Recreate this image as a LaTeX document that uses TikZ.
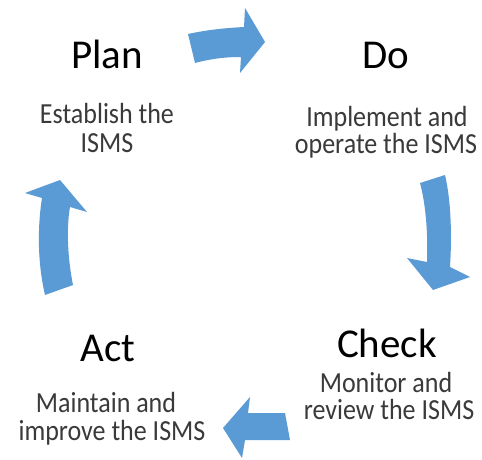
\documentclass[tikz,border=0pt]{standalone}
\usepackage{fontspec}
\usepackage{graphicx}
\setmainfont{Carlito}
\definecolor{arrowblue}{HTML}{5B9BD5}
\definecolor{bodytext}{HTML}{3A3A3A}
\newcommand{\tallbody}[1]{\scalebox{1}[1.12]{#1}}
\begin{document}
\begin{tikzpicture}[x=1pt,y=-1pt,
  heading/.style={anchor=base,inner sep=0pt,font=\fontsize{41}{44}\selectfont,text=black},
  bodyline/.style={anchor=base,inner sep=0pt,text height=19pt,text depth=5pt,font=\fontsize{26}{28}\selectfont,text=bodytext},
  cyclearrow/.style={fill=arrowblue,draw=none}]
\useasboundingbox (0,0) rectangle (482,460);
\fill[white] (0,0) rectangle (482,460);

% headings
\node[heading] (plan) at (107,69) {Plan};
\node[heading] (do) at (386,69) {Do};
\node[heading] (check) at (387,357) {Check};
\node[heading] (act) at (108,361) {Act};

% descriptions
\node[bodyline] (plan1) at (107,123) {\tallbody{Establish the}};
\node[bodyline] (plan2) at (107,152) {\tallbody{ISMS}};
\node[bodyline] (do1) at (387,126) {\tallbody{Implement and}};
\node[bodyline] (do2) at (386,153) {\tallbody{operate the ISMS}};
\node[bodyline] (check1) at (386,392) {\tallbody{Monitor and}};
\node[bodyline] (check2) at (389,419) {\tallbody{review the ISMS}};
\node[bodyline] (act1) at (106,412) {\tallbody{Maintain and}};
\node[bodyline] (act2) at (112,440) {\tallbody{improve the ISMS}};

% arrow Plan -> Do
\fill[cyclearrow] (188,34) .. controls (206,30) and (225,28) .. (244,27)
  -- (245,8) -- (265,42) -- (240,73) -- (241,57)
  .. controls (224,57) and (210,59) .. (195,63) -- cycle;
% arrow Do -> Check
\fill[cyclearrow] (420,183) .. controls (426,205) and (428,235) .. (427,262)
  -- (407,258) -- (433,290) -- (470,277) -- (450,267)
  .. controls (452,235) and (451,200) .. (445,175) -- cycle;
% arrow Check -> Act
\fill[cyclearrow] (285,413) .. controls (272,413) and (260,413) .. (248,413)
  -- (250,397) -- (223,428) -- (242,458) -- (245,440)
  .. controls (260,440) and (275,440) .. (290,440) -- cycle;
% arrow Act -> Plan
\fill[cyclearrow] (45,295) .. controls (38,265) and (37,230) .. (42,198)
  -- (25,193) -- (60,180) -- (87,212) -- (70,207)
  .. controls (66,230) and (68,260) .. (73,285) -- cycle;
\end{tikzpicture}
\end{document}
